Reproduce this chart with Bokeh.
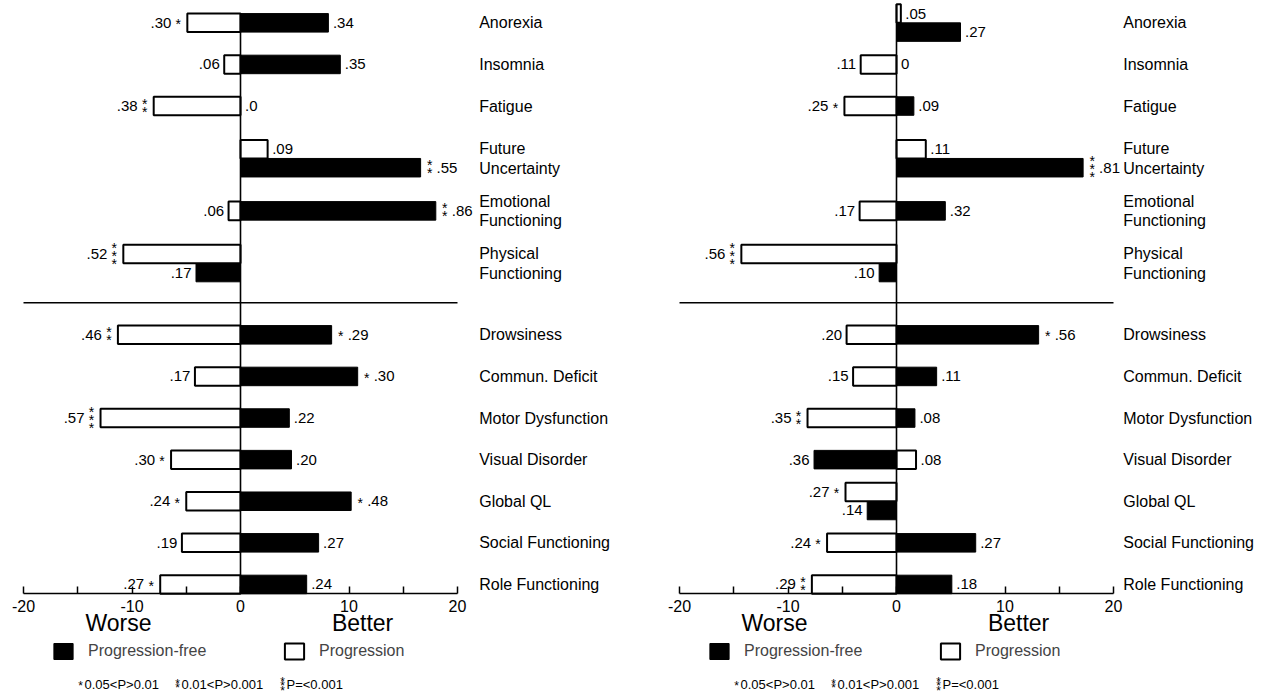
from bokeh.plotting import figure
from bokeh.models import ColumnDataSource, Range1d, LinearAxis, FixedTicker, Legend, LegendItem
from bokeh.layouts import row
from bokeh.core.properties import value
from bokeh.embed import file_html
from bokeh.resources import INLINE

# ---------------- data ----------------
CATEGORIES = ["Anorexia", "Insomnia", "Fatigue", "Future\nUncertainty",
              "Emotional\nFunctioning", "Physical\nFunctioning",
              "Drowsiness", "Commun. Deficit", "Motor Dysfunction",
              "Visual Disorder", "Global QL", "Social Functioning",
              "Role Functioning"]
N_TOP = 6  # rows above the divider line

SERIES = ["Progression-free", "Progression"]

# left panel
A_PROG = [-4.9, -1.5, -8.0, 2.5, -1.1, -10.8, -11.3, -4.2, -12.9, -6.4, -5.0, -5.4, -7.4]
A_PROG_LABEL = [".30", ".06", ".38", ".09", ".06", ".52", ".46", ".17", ".57", ".30", ".24", ".19", ".27"]
A_PROG_SIG = [1, 0, 2, 0, 0, 3, 2, 0, 3, 1, 1, 0, 1]
A_FREE = [8.1, 9.2, 0.0, 16.6, 18.0, -4.1, 8.4, 10.8, 4.5, 4.7, 10.2, 7.2, 6.1]
A_FREE_LABEL = [".34", ".35", ".0", ".55", ".86", ".17", ".29", ".30", ".22", ".20", ".48", ".27", ".24"]
A_FREE_SIG = [0, 0, 0, 2, 2, 0, 1, 1, 0, 0, 1, 0, 0]

# right panel
B_PROG = [0.4, -3.3, -4.8, 2.7, -3.4, -14.3, -4.6, -4.0, -8.2, 1.8, -4.7, -6.4, -7.8]
B_PROG_LABEL = [".05", ".11", ".25", ".11", ".17", ".56", ".20", ".15", ".35", ".08", ".27", ".24", ".29"]
B_PROG_SIG = [0, 0, 1, 0, 0, 3, 0, 0, 2, 0, 1, 1, 2]
B_FREE = [5.9, 0.0, 1.6, 17.2, 4.5, -1.6, 13.1, 3.7, 1.7, -7.6, -2.7, 7.3, 5.1]
B_FREE_LABEL = [".27", "0", ".09", ".81", ".32", ".10", ".56", ".11", ".08", ".36", ".14", ".27", ".18"]
B_FREE_SIG = [0, 0, 0, 3, 0, 0, 1, 0, 0, 0, 0, 0, 0]

X_TICKS = [-20, -10, 0, 10, 20]
X_TICK_LABELS = ["-20", "-10", "0", "10", "20"]
X_MINOR_TICKS = [-15, -5, 5, 15]
FOOT_TEXT = ["0.05<P>0.01", "0.01<P>0.001", "P=<0.001"]
FOOT_STARS = [1, 2, 3]

# ---------------- layout / style ----------------
FONT = "Liberation Sans"
FIG_H = 696
PX = 10.85          # px per x unit
ROW_PX = 41.6       # px per y unit (one row slot)
AXIS_Y = 593.3 / ROW_PX
BAR_H = 0.445
TOP_PAIR_EXTRA = 0.52
TXT_DY = 0.0        # vertical nudge of value / category texts (px)
STAR_DY = 1.5       # vertical nudge of the asterisks (px)


def row_centers(pairs):
    n = len(pairs)
    c = [0.0] * n
    last = AXIS_Y - 0.225
    for i in range(N_TOP, n):
        c[i] = last - (n - 1 - i)
    divider = c[N_TOP] - 0.77
    edge = divider - 0.19
    w = [1.0 + (TOP_PAIR_EXTRA if (pairs[i] and i > 0) else 0.0) for i in range(N_TOP)]
    y = edge - w[N_TOP - 1] / 2
    c[N_TOP - 1] = y
    for i in range(N_TOP - 2, -1, -1):
        y = y - (w[i + 1] / 2 + w[i] / 2)
        c[i] = y
    return c, divider


def value_labels(vals, labs, sigs, ys):
    left = dict(x=[], y=[], t=[], xo=[], yo=[])
    right = dict(x=[], y=[], t=[], xo=[], yo=[])
    stars = dict(x=[], y=[], t=[], xo=[], yo=[])
    for v, lab, s, y in zip(vals, labs, sigs, ys):
        side = -1 if v < 0 else 1
        d = right if side > 0 else left
        d["x"].append(v); d["y"].append(y); d["t"].append(lab)
        d["xo"].append(side * (16 if s else 4.5)); d["yo"].append(TXT_DY)
        for k in range(s):
            dy = (k - (s - 1) / 2) * 8.0
            stars["x"].append(v); stars["y"].append(y); stars["t"].append("*")
            stars["xo"].append(side * 9); stars["yo"].append(dy + STAR_DY)
    return left, right, stars


def build_panel(prog, prog_lab, prog_sig, free, free_lab, free_sig, width, zero_px, label_x):
    pairs = [a * b > 0 for a, b in zip(prog, free)]
    centers, divider = row_centers(pairs)
    prog_y = [c - BAR_H / 2 if pr else c for c, pr in zip(centers, pairs)]
    free_y = [c + BAR_H / 2 if pr else c for c, pr in zip(centers, pairs)]

    p = figure(width=width, height=FIG_H,
               x_range=Range1d(-zero_px / PX, (width - zero_px) / PX),
               y_range=Range1d(FIG_H / ROW_PX, 0),
               output_backend="svg", toolbar_location=None,
               x_axis_location=None, y_axis_location=None,
               min_border=0, outline_line_color=None)
    p.background_fill_color = "white"
    p.border_fill_color = "white"
    for g in p.grid:
        g.visible = False

    # bars
    src_free = ColumnDataSource(dict(y=free_y, left=[min(0, v) for v in free],
                                     right=[max(0, v) for v in free]))
    src_prog = ColumnDataSource(dict(y=prog_y, left=[min(0, v) for v in prog],
                                     right=[max(0, v) for v in prog]))
    r_free = p.hbar(y="y", height=BAR_H, left="left", right="right", source=src_free,
                    fill_color="black", line_color="black", line_width=1)
    r_prog = p.hbar(y="y", height=BAR_H, left="left", right="right", source=src_prog,
                    fill_color="white", line_color="black", line_width=2)

    # zero line and divider
    top = min(prog_y + free_y) - BAR_H / 2
    p.segment(x0=[0], y0=[top], x1=[0], y1=[AXIS_Y], line_color="black", line_width=1.6)
    p.segment(x0=[-20], y0=[divider], x1=[20], y1=[divider], line_color="black", line_width=1.5)

    # value labels
    for vals, labs, sigs, ys in ((prog, prog_lab, prog_sig, prog_y),
                                 (free, free_lab, free_sig, free_y)):
        left, right, stars = value_labels(vals, labs, sigs, ys)
        p.text(x="x", y="y", text="t", x_offset="xo", y_offset="yo",
               source=ColumnDataSource(left), text_align="right", text_baseline="middle",
               text_font=value(FONT), text_font_size="15px", text_color="black")
        p.text(x="x", y="y", text="t", x_offset="xo", y_offset="yo",
               source=ColumnDataSource(right), text_align="left", text_baseline="middle",
               text_font=value(FONT), text_font_size="15px", text_color="black")
        p.text(x="x", y="y", text="t", x_offset="xo", y_offset="yo",
               source=ColumnDataSource(stars), text_align="center", text_baseline="alphabetic",
               text_font=value(FONT), text_font_size="14px", text_color="black")

    # category labels (split multi-line names)
    cx, cy, ct, co = [], [], [], []
    for name, c in zip(CATEGORIES, centers):
        lines = name.split("\n")
        for k, ln in enumerate(lines):
            cx.append(label_x); cy.append(c); ct.append(ln)
            co.append((k - (len(lines) - 1) / 2) * 19.5 + TXT_DY)
    p.text(x="x", y="y", text="t", y_offset="yo",
           source=ColumnDataSource(dict(x=cx, y=cy, t=ct, yo=co)),
           text_align="left", text_baseline="middle",
           text_font=value(FONT), text_font_size="16px", text_color="black")

    # x axis at fixed location
    ax = LinearAxis(fixed_location=AXIS_Y, bounds=(-20, 20),
                    ticker=FixedTicker(ticks=X_TICKS, minor_ticks=X_MINOR_TICKS),
                    major_label_overrides={t: s for t, s in zip(X_TICKS, X_TICK_LABELS)})
    ax.axis_line_width = 1.5
    ax.major_tick_line_width = 1.5
    ax.minor_tick_line_width = 1.5
    ax.major_tick_in = 7
    ax.major_tick_out = 0
    ax.minor_tick_in = 7
    ax.minor_tick_out = 0
    ax.major_label_standoff = 6
    ax.major_label_text_font = FONT
    ax.major_label_text_font_size = "16px"
    ax.major_label_text_color = "black"
    p.add_layout(ax, "below")

    # Worse / Better
    wy = 622 / ROW_PX
    p.text(x=[-11.25, 11.25], y=[wy, wy], text=["Worse", "Better"],
           text_align="center", text_baseline="middle",
           text_font=value(FONT), text_font_size="23px", text_color="black")

    # legends (location = left, bottom in screen px)
    for r, lab, lx in ((r_free, SERIES[0], zero_px - 189), (r_prog, SERIES[1], zero_px + 42)):
        lg = Legend(items=[LegendItem(label=lab, renderers=[r])], location=(lx, FIG_H - 661),
                    glyph_width=24, glyph_height=20, label_standoff=13,
                    label_text_font=FONT, label_text_font_size="16px",
                    padding=0, margin=0, border_line_alpha=0, background_fill_alpha=0)
        p.add_layout(lg)

    # footnote
    base = -163 / PX
    fy = 684 / ROW_PX
    star_cx = [3, 100, 205]
    text_x0 = [7, 104, 209]
    sx, sy, so, sxo = [], [], [], []
    for n_st, scx in zip(FOOT_STARS, star_cx):
        for k in range(n_st):
            sx.append(base); sy.append(fy); sxo.append(scx)
            so.append((k - (n_st - 1) / 2) * 4.5 + STAR_DY)
    p.text(x="x", y="y", text="t", x_offset="xo", y_offset="yo",
           source=ColumnDataSource(dict(x=sx, y=sy, t=["*"] * len(sx), xo=sxo, yo=so)),
           text_align="center", text_baseline="alphabetic",
           text_font=value(FONT), text_font_size="12px", text_color="black")
    p.text(x="x", y="y", text="t", x_offset="xo",
           source=ColumnDataSource(dict(x=[base] * 3, y=[fy] * 3, t=FOOT_TEXT, xo=text_x0)),
           text_align="left", text_baseline="middle",
           text_font=value(FONT), text_font_size="13px", text_color="black")
    return p


p1 = build_panel(A_PROG, A_PROG_LABEL, A_PROG_SIG, A_FREE, A_FREE_LABEL, A_FREE_SIG,
                 640, 240, 22.0)
p2 = build_panel(B_PROG, B_PROG_LABEL, B_PROG_SIG, B_FREE, B_FREE_LABEL, B_FREE_SIG,
                 626, 256, 20.9)

layout = row(p1, p2)
open("out.html", "w").write(file_html(layout, INLINE))
